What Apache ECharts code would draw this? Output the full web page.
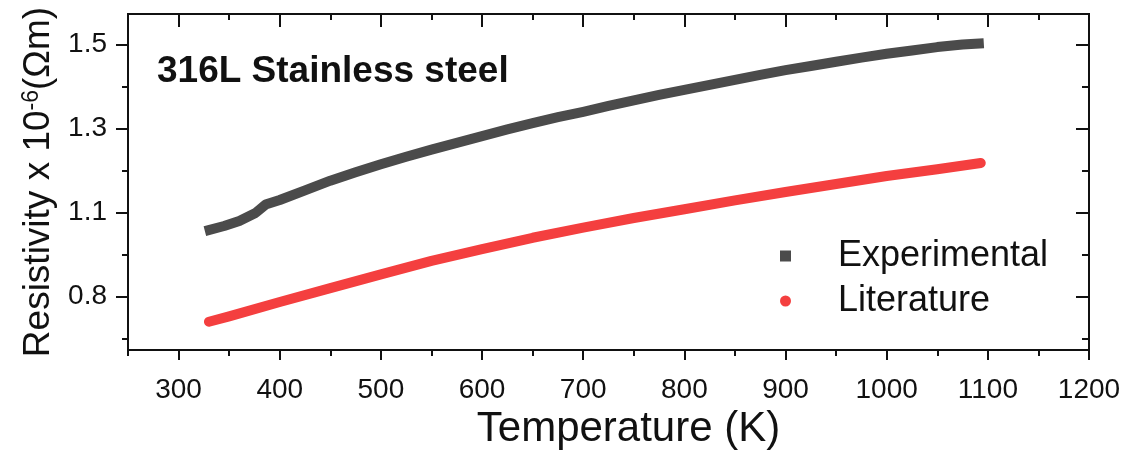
<!DOCTYPE html>
<html>
<head>
<meta charset="utf-8">
<script src="https://cdn.jsdelivr.net/npm/echarts@6/dist/echarts.min.js"></script>
<style>
  html, body { margin: 0; padding: 0; background: #fff; }
  #chart { width: 1128px; height: 462px; }
</style>
</head>
<body>
<div id="chart"></div>
<script>
// temperature (K) and resistivity
var expTemp = [326, 345, 360, 376, 386, 400, 425, 450, 475, 500, 525, 550, 575, 600, 625, 650, 675, 700,
  725, 750, 775, 800, 825, 850, 875, 900, 925, 950, 975, 1000, 1025, 1050, 1075, 1096];
var expRes = [1.056, 1.068, 1.080, 1.099, 1.119, 1.130, 1.153, 1.176, 1.196, 1.215, 1.233, 1.250, 1.266, 1.282,
  1.298, 1.313, 1.327, 1.340, 1.354, 1.367, 1.380, 1.392, 1.404, 1.416, 1.428, 1.439, 1.449, 1.459,
  1.469, 1.478, 1.486, 1.494, 1.500, 1.503];

var litTemp = [330, 350, 400, 450, 500, 550, 600, 650, 700, 750, 800, 850, 900, 950, 1000, 1050, 1093];
var litRes = [0.840, 0.853, 0.887, 0.920, 0.953, 0.985, 1.013, 1.040, 1.064, 1.087, 1.108, 1.129, 1.149,
  1.168, 1.187, 1.203, 1.218];

// axis ticks
var xMajor = [300, 400, 500, 600, 700, 800, 900, 1000, 1100, 1200];
var xMinor = [250, 350, 450, 550, 650, 750, 850, 950, 1050, 1150];
var yMajor = [0.9, 1.1, 1.3, 1.5];
var yMajorLabels = ['0.8', '1.1', '1.3', '1.5'];
var yMinor = [0.8, 1.0, 1.2, 1.4];

function pairs(xs, ys) {
  var out = [];
  for (var i = 0; i < xs.length; i++) out.push([xs[i], ys[i]]);
  return out;
}

var font = 'Liberation Sans, Arial, sans-serif';
var black = '#111';

function xAx(pos, ticks, len, inside, extra) {
  var ax = {
    type: 'value', position: pos, min: 250, max: 1200,
    axisLine: { show: true, onZero: false, lineStyle: { color: black, width: 2 } },
    axisTick: { show: true, customValues: ticks, length: len, inside: inside, lineStyle: { color: black, width: 2 } },
    axisLabel: { show: false },
    splitLine: { show: false }
  };
  return Object.assign(ax, extra || {});
}

function yAx(pos, ticks, len, inside, extra) {
  var ax = {
    type: 'value', position: pos, min: 0.7728, max: 1.5728,
    axisLine: { show: true, onZero: false, lineStyle: { color: black, width: 2 } },
    axisTick: { show: true, customValues: ticks, length: len, inside: inside, lineStyle: { color: black, width: 2 } },
    axisLabel: { show: false },
    splitLine: { show: false }
  };
  return Object.assign(ax, extra || {});
}

var chart = echarts.init(document.getElementById('chart'), null, { renderer: 'canvas' });

var option = {
  animation: false,
  backgroundColor: '#fff',
  textStyle: { fontFamily: font },
  title: {
    text: '316L Stainless steel',
    left: 152, top: 48,
    textStyle: { fontFamily: font, fontWeight: 'bold', fontSize: 37, color: black }
  },
  legend: {
    orient: 'vertical',
    left: 775, top: 233,
    itemWidth: 11, itemHeight: 11, itemGap: 9,
    formatter: function (name) { return '{p|}' + name; },
    textStyle: {
      fontFamily: font, fontSize: 36, color: black,
      rich: { p: { width: 42 } }
    },
    data: [{ name: 'Experimental', icon: 'rect' }, { name: 'Literature', icon: 'circle' }]
  },
  grid: { left: 128, right: 39, top: 14, bottom: 112, containLabel: false },
  xAxis: [
    xAx('bottom', xMajor, 10, false, {
      axisLabel: {
        show: true, customValues: xMajor, margin: 26, fontSize: 28, color: black, fontFamily: font,
        formatter: function (v) { return String(v); }
      },
      name: 'Temperature (K)', nameLocation: 'middle', nameGap: 46,
      nameTextStyle: { fontSize: 42, color: black, fontFamily: font, padding: [0, 0, 0, 40] }
    }),
    xAx('bottom', xMinor, 6, false),
    xAx('top', xMajor, 13, true),
    xAx('top', xMinor, 6, true)
  ],
  yAxis: [
    yAx('left', yMajor, 12, false, {
      axisLabel: {
        show: true, customValues: yMajor, margin: 21, fontSize: 28, color: black, fontFamily: font,
        formatter: function (v) {
          for (var i = 0; i < yMajor.length; i++) if (Math.abs(v - yMajor[i]) < 1e-6) return yMajorLabels[i];
          return '';
        }
      },
      name: 'Resistivity x 10{sup|-6}(Ωm)', nameLocation: 'middle', nameGap: 71, nameRotate: 90,
      nameTextStyle: {
        fontSize: 37, color: black, fontFamily: font,
        rich: { sup: { fontSize: 23, color: black, fontFamily: font, verticalAlign: 'top' } }
      }
    }),
    yAx('left', yMinor, 6, false),
    yAx('right', yMajor, 13, true),
    yAx('right', yMinor, 7, true)
  ],
  series: [
    {
      name: 'Experimental', type: 'line', xAxisIndex: 0, yAxisIndex: 0,
      data: pairs(expTemp, expRes),
      showSymbol: false, symbol: 'rect',
      color: '#4b4b4b',
      lineStyle: { color: '#4b4b4b', width: 10, cap: 'butt', join: 'round' }
    },
    {
      name: 'Literature', type: 'line', xAxisIndex: 0, yAxisIndex: 0,
      data: pairs(litTemp, litRes),
      showSymbol: false, symbol: 'circle',
      color: '#f43f3f',
      lineStyle: { color: '#f43f3f', width: 10, cap: 'round', join: 'round' }
    }
  ]
};

chart.setOption(option);
</script>
</body>
</html>
